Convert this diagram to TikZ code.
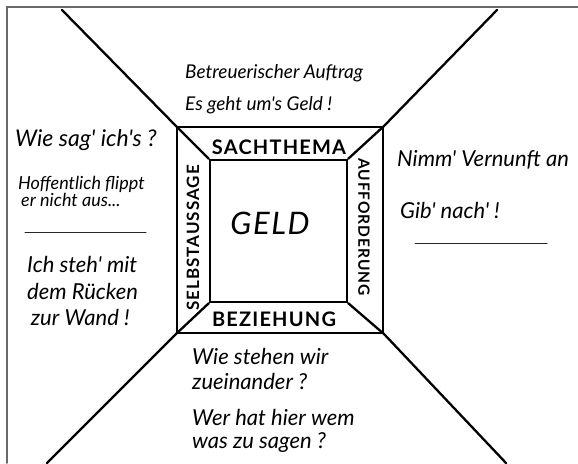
\documentclass[tikz,border=0pt]{standalone}
\usepackage{fontspec}
\setmainfont{Lato}
\newfontfamily\handfont{Lato}
\newfontfamily\tagfont[LetterSpace=6]{Lato}
\newfontfamily\geldfont[LetterSpace=5]{Lato}
\usetikzlibrary{positioning}
\definecolor{framegray}{RGB}{105,105,105}

\begin{document}
\begin{tikzpicture}[x=1pt, y=1pt, line cap=round]
  \tikzset{
    pen/.style={line width=2.3pt, black},
    rule/.style={line width=1pt, black!85},
    sq/.style={draw, pen, inner sep=0pt},
    note/.style={anchor=west, align=left, inner sep=0pt,
      font=\handfont\itshape\fontsize{22}{26}\selectfont},
    tag/.style={inner sep=0pt, font=\tagfont\bfseries\fontsize{20}{20}\selectfont}
  }
  \useasboundingbox (0,0) rectangle (578,-463);

  % ---- frame ----
  \draw[line width=1.6pt, framegray] (7,-463) -- (7,-7) -- (578,-7);

  % ---- square in square ----
  \node[sq, minimum width=206pt, minimum height=206pt] (outer) at (280,-230) {};
  \node[sq, minimum width=137pt, minimum height=142pt] (inner) at (278.5,-231) {};

  \foreach \c in {north west, north east, south west, south east}
    \draw[pen] (outer.\c) -- (inner.\c);

  % ---- diagonals to the page edges ----
  \coordinate (tl) at (62,-10);
  \coordinate (tr) at (497,-10);
  \coordinate (bl) at (47,-463);
  \coordinate (br) at (506,-463);
  \draw[pen] (outer.north west) -- (tl);
  \draw[pen] (outer.north east) -- (tr);
  \draw[pen] (outer.south west) -- (bl);
  \draw[pen] (outer.south east) -- (br);

  % ---- band labels ----
  \node[tag] (sach) at (279,-147) {SACHTHEMA};
  \node[tag] (bez) at (274,-319) {BEZIEHUNG};
  \node[tag, rotate=90, font=\tagfont\bfseries\fontsize{17}{17}\selectfont]
    (selbst) at (193,-238) {SELBSTAUSSAGE};
  \node[tag, rotate=-90, font=\tagfont\bfseries\fontsize{15.5}{15.5}\selectfont]
    (auff) at (364,-227) {AUFFORDERUNG};
  \node[font=\geldfont\itshape\fontsize{31}{31}\selectfont] (geld) at (270,-223) {GELD};

  % ---- top ----
  \node[note, font=\handfont\itshape\fontsize{19}{32}\selectfont] (auftrag) at (185,-89)
    {Betreuerischer Auftrag\\Es geht um's Geld !};

  % ---- left ----
  \node[note, font=\handfont\itshape\fontsize{23}{23}\selectfont] (wie) at (15,-140)
    {Wie sag' ich's ?};
  \node[note, font=\handfont\itshape\fontsize{18}{17}\selectfont] (hoff) at (18,-191)
    {Hoffentlich flippt\\\,er nicht aus...};
  \coordinate (la) at (25,-232);
  \coordinate (lb) at (146,-232);
  \draw[rule] (la) -- (lb);
  \node[note, font=\handfont\itshape\fontsize{22}{26.5}\selectfont] (wand) at (27,-291)
    {Ich steh' mit\\dem Rücken\\\,zur Wand !};

  % ---- right ----
  \node[note] (nimm) at (397,-160)
    {Nimm' Vernunft an};
  \node[note] (gib) at (400,-210)
    {Gib' nach' !};
  \coordinate (ra) at (415,-243);
  \coordinate (rb) at (547,-243);
  \draw[rule] (ra) -- (rb);

  % ---- bottom ----
  \node[note, font=\handfont\itshape\fontsize{22}{25}\selectfont] (stehen) at (192,-369)
    {Wie stehen wir\\zueinander ?};
  \node[note, font=\handfont\itshape\fontsize{22}{23}\selectfont] (sagen) at (192,-431)
    {Wer hat hier wem\\was zu sagen ?};
\end{tikzpicture}
\end{document}
